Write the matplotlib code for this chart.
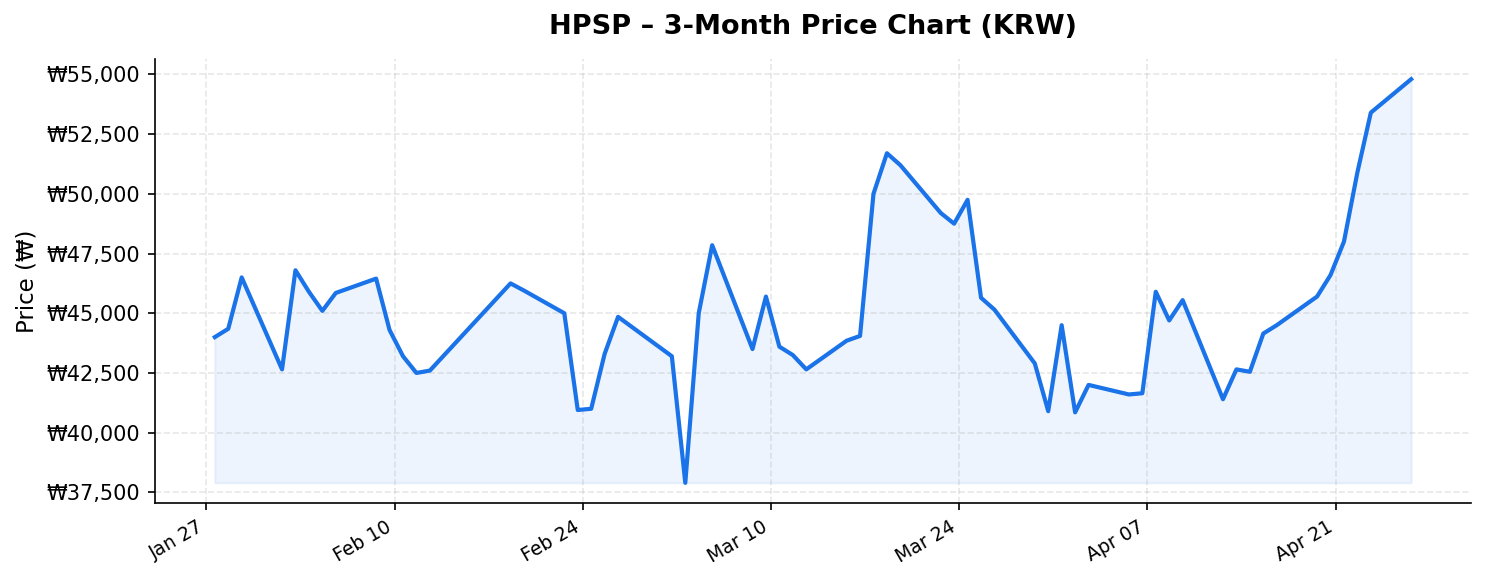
import matplotlib
matplotlib.use("Agg")
from matplotlib import pyplot as plt
import matplotlib.dates as mdates
from matplotlib.ticker import FuncFormatter
import pandas as pd

# trading days (KST) and closing prices
jan_days = ["2026-01-28", "2026-01-29", "2026-01-30"]
feb_days = ["2026-02-02", "2026-02-03", "2026-02-04", "2026-02-05", "2026-02-06",
            "2026-02-09", "2026-02-10", "2026-02-11", "2026-02-12", "2026-02-13",
            "2026-02-19", "2026-02-20", "2026-02-23", "2026-02-24", "2026-02-25",
            "2026-02-26", "2026-02-27"]
mar_days = ["2026-03-03", "2026-03-04", "2026-03-05", "2026-03-06", "2026-03-09",
            "2026-03-10", "2026-03-11", "2026-03-12", "2026-03-13", "2026-03-16",
            "2026-03-17", "2026-03-18", "2026-03-19", "2026-03-20", "2026-03-23",
            "2026-03-24", "2026-03-25", "2026-03-26", "2026-03-27", "2026-03-30",
            "2026-03-31"]
apr_days = ["2026-04-01", "2026-04-02", "2026-04-03", "2026-04-06", "2026-04-07",
            "2026-04-08", "2026-04-09", "2026-04-10", "2026-04-13", "2026-04-14",
            "2026-04-15", "2026-04-16", "2026-04-17", "2026-04-20", "2026-04-21",
            "2026-04-22", "2026-04-23", "2026-04-24", "2026-04-27"]

jan_close = [44000, 44350, 46500]
feb_close = [42650, 46800, 45900, 45100, 45850, 46450, 44300, 43200, 42500, 42600,
             46250, 45950, 45000, 40950, 41000, 43300, 44850]
mar_close = [43200, 37900, 45000, 47850, 43500, 45700, 43600, 43250, 42650, 43850,
             44050, 50000, 51700, 51200, 49200, 48750, 49750, 45650, 45150, 42900,
             40900]
apr_close = [44500, 40850, 42000, 41600, 41650, 45900, 44700, 45550, 41400, 42650,
             42550, 44150, 44500, 45700, 46600, 48000, 50900, 53400, 54800]

tick_start = "2026-01-27"

dates = pd.to_datetime(jan_days + feb_days + mar_days + apr_days)
# index is in Seoul time, the axis is drawn in UTC
dates = dates.tz_localize("Asia/Seoul").tz_convert("UTC").tz_localize(None)
prices = pd.Series(jan_close + feb_close + mar_close + apr_close, index=dates)

blue = "#1a73e8"

fig = plt.figure(figsize=(1486 / 150, 583 / 150), dpi=150)
ax = fig.add_axes([0.1043, 0.1372, 0.8856, 0.7616])

ax.plot(prices.index, prices.values, color=blue, linewidth=2)
ax.fill_between(prices.index, prices.values, prices.min(), color=blue, alpha=0.08)

ax.set_title("HPSP \u2013 3-Month Price Chart (KRW)", fontsize=13, fontweight="bold", pad=12)
ax.set_ylabel("Price (\u20a9)", fontsize=11)

ax.yaxis.set_major_formatter(FuncFormatter(lambda v, pos: f"\u20a9{v:,.0f}"))
ax.set_xticks(pd.date_range(tick_start, periods=7, freq="14D"))
ax.xaxis.set_major_formatter(mdates.DateFormatter("%b %d"))
ax.tick_params(axis="y", labelsize=10)
ax.tick_params(axis="x", labelsize=9)
for label in ax.get_xticklabels():
    label.set_rotation(30)
    label.set_ha("right")

ax.grid(True, linestyle="--", alpha=0.3)
ax.spines["top"].set_visible(False)
ax.spines["right"].set_visible(False)

fig.savefig("out.png", dpi=150)
